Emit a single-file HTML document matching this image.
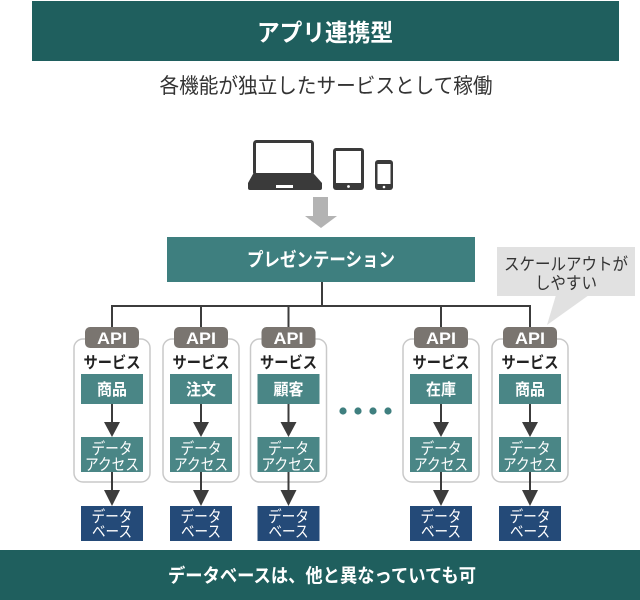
<!DOCTYPE html>
<html><head><meta charset="utf-8">
<style>
html,body{margin:0;padding:0;background:#fff;}
svg{display:block;}
text{font-family:"Liberation Sans","Noto Sans CJK JP",sans-serif;}
</style></head>
<body>
<svg width="640" height="600" viewBox="0 0 640 600" xmlns="http://www.w3.org/2000/svg">
<!-- top banner -->
<rect x="32" y="1" width="587" height="60" fill="#1f5f5e"/>
<text x="325" y="41" font-size="24" font-weight="bold" fill="#fff" text-anchor="middle" textLength="136" lengthAdjust="spacingAndGlyphs">アプリ連携型</text>
<text x="326" y="93" font-size="21" fill="#333" text-anchor="middle" textLength="333" lengthAdjust="spacingAndGlyphs">各機能が独立したサービスとして稼働</text>

<!-- devices -->
<rect x="254.5" y="141.5" width="58" height="33" rx="2" fill="#fff" stroke="#3a3a3a" stroke-width="3"/>
<path d="M253 174 L314 174 L322 183 L322 188 Q322 190 320 190 L250 190 Q248 190 248 188 L248 183 Z" fill="#3a3a3a"/>
<rect x="276" y="185" width="17" height="3" fill="#fff"/>
<rect x="333" y="148" width="31" height="42" rx="3" fill="#3a3a3a"/>
<rect x="336" y="151" width="25" height="32" fill="#fff"/>
<circle cx="348.5" cy="186.5" r="1.4" fill="#fff"/>
<rect x="375" y="160" width="18" height="30" rx="3" fill="#3a3a3a"/>
<rect x="377.5" y="164" width="13" height="20" fill="#fff"/>
<circle cx="384" cy="187" r="1.3" fill="#fff"/>

<!-- gray arrow -->
<polygon points="313,197 328,197 328,216 337,216 321,228 305,216 313,216" fill="#b3b3b3"/>

<!-- presentation -->
<rect x="167" y="237" width="308" height="45" fill="#3e7f7f"/>
<text x="321" y="266" font-size="19" font-weight="bold" fill="#fff" text-anchor="middle" textLength="148" lengthAdjust="spacingAndGlyphs">プレゼンテーション</text>

<!-- callout -->
<rect x="497" y="247" width="138" height="49" fill="#e1e1e1"/>
<polygon points="556,295 589,295 547,325" fill="#e1e1e1"/>
<text x="566" y="270" font-size="17" fill="#333" text-anchor="middle" textLength="124" lengthAdjust="spacingAndGlyphs">スケールアウトが</text>
<text x="566" y="289" font-size="17" fill="#333" text-anchor="middle" textLength="62" lengthAdjust="spacingAndGlyphs">しやすい</text>

<!-- connectors -->
<g stroke="#3c3c3c" stroke-width="2" fill="none">
<line x1="322" y1="282" x2="322" y2="306"/>
<line x1="111" y1="306" x2="531" y2="306"/>
<line x1="112" y1="306" x2="112" y2="328"/>
<line x1="201" y1="306" x2="201" y2="328"/>
<line x1="288.5" y1="306" x2="288.5" y2="328"/>
<line x1="441" y1="306" x2="441" y2="328"/>
<line x1="530" y1="306" x2="530" y2="328"/>
</g>

<!-- dots -->
<g fill="#3f7f7f">
<circle cx="343" cy="411" r="3.6"/>
<circle cx="358" cy="411" r="3.6"/>
<circle cx="373" cy="411" r="3.6"/>
<circle cx="388" cy="411" r="3.6"/>
</g>

<g transform="translate(112,0)">
<rect x="-38" y="339" width="76" height="143" rx="9" fill="#fff" stroke="#c9c9c9" stroke-width="1.5"/>
<rect x="-27" y="327" width="54" height="21" rx="5" fill="#7a7570"/>
<text x="0" y="344" font-size="17" font-weight="bold" fill="#fff" text-anchor="middle" textLength="30" lengthAdjust="spacingAndGlyphs">API</text>
<text x="0" y="368" font-size="16" font-weight="bold" fill="#222" text-anchor="middle" textLength="57" lengthAdjust="spacingAndGlyphs">サービス</text>
<rect x="-31" y="374" width="62" height="30" fill="#4a8686"/>
<text x="0" y="395" font-size="16" font-weight="bold" fill="#fff" text-anchor="middle" textLength="30" lengthAdjust="spacingAndGlyphs">商品</text>
<line x1="0" y1="404" x2="0" y2="423" stroke="#3c3c3c" stroke-width="2"/>
<polygon points="-8,422 8,422 0,437" fill="#3c3c3c"/>
<rect x="-31" y="437" width="62" height="35" fill="#4a8686"/>
<text x="0" y="454" font-size="16" fill="#fff" text-anchor="middle" textLength="41" lengthAdjust="spacingAndGlyphs">データ</text>
<text x="0" y="470" font-size="16" fill="#fff" text-anchor="middle" textLength="54" lengthAdjust="spacingAndGlyphs">アクセス</text>
<line x1="0" y1="472" x2="0" y2="491" stroke="#3c3c3c" stroke-width="2"/>
<polygon points="-8,490 8,490 0,506" fill="#3c3c3c"/>
<rect x="-31" y="506" width="62" height="35" fill="#244a78"/>
<text x="0" y="522" font-size="16" fill="#fff" text-anchor="middle" textLength="41" lengthAdjust="spacingAndGlyphs">データ</text>
<text x="0" y="537" font-size="16" fill="#fff" text-anchor="middle" textLength="40" lengthAdjust="spacingAndGlyphs">ベース</text>
</g>

<g transform="translate(201,0)">
<rect x="-38" y="339" width="76" height="143" rx="9" fill="#fff" stroke="#c9c9c9" stroke-width="1.5"/>
<rect x="-27" y="327" width="54" height="21" rx="5" fill="#7a7570"/>
<text x="0" y="344" font-size="17" font-weight="bold" fill="#fff" text-anchor="middle" textLength="30" lengthAdjust="spacingAndGlyphs">API</text>
<text x="0" y="368" font-size="16" font-weight="bold" fill="#222" text-anchor="middle" textLength="57" lengthAdjust="spacingAndGlyphs">サービス</text>
<rect x="-31" y="374" width="62" height="30" fill="#4a8686"/>
<text x="0" y="395" font-size="16" font-weight="bold" fill="#fff" text-anchor="middle" textLength="30" lengthAdjust="spacingAndGlyphs">注文</text>
<line x1="0" y1="404" x2="0" y2="423" stroke="#3c3c3c" stroke-width="2"/>
<polygon points="-8,422 8,422 0,437" fill="#3c3c3c"/>
<rect x="-31" y="437" width="62" height="35" fill="#4a8686"/>
<text x="0" y="454" font-size="16" fill="#fff" text-anchor="middle" textLength="41" lengthAdjust="spacingAndGlyphs">データ</text>
<text x="0" y="470" font-size="16" fill="#fff" text-anchor="middle" textLength="54" lengthAdjust="spacingAndGlyphs">アクセス</text>
<line x1="0" y1="472" x2="0" y2="491" stroke="#3c3c3c" stroke-width="2"/>
<polygon points="-8,490 8,490 0,506" fill="#3c3c3c"/>
<rect x="-31" y="506" width="62" height="35" fill="#244a78"/>
<text x="0" y="522" font-size="16" fill="#fff" text-anchor="middle" textLength="41" lengthAdjust="spacingAndGlyphs">データ</text>
<text x="0" y="537" font-size="16" fill="#fff" text-anchor="middle" textLength="40" lengthAdjust="spacingAndGlyphs">ベース</text>
</g>

<g transform="translate(288.5,0)">
<rect x="-38" y="339" width="76" height="143" rx="9" fill="#fff" stroke="#c9c9c9" stroke-width="1.5"/>
<rect x="-27" y="327" width="54" height="21" rx="5" fill="#7a7570"/>
<text x="0" y="344" font-size="17" font-weight="bold" fill="#fff" text-anchor="middle" textLength="30" lengthAdjust="spacingAndGlyphs">API</text>
<text x="0" y="368" font-size="16" font-weight="bold" fill="#222" text-anchor="middle" textLength="57" lengthAdjust="spacingAndGlyphs">サービス</text>
<rect x="-31" y="374" width="62" height="30" fill="#4a8686"/>
<text x="0" y="395" font-size="16" font-weight="bold" fill="#fff" text-anchor="middle" textLength="30" lengthAdjust="spacingAndGlyphs">顧客</text>
<line x1="0" y1="404" x2="0" y2="423" stroke="#3c3c3c" stroke-width="2"/>
<polygon points="-8,422 8,422 0,437" fill="#3c3c3c"/>
<rect x="-31" y="437" width="62" height="35" fill="#4a8686"/>
<text x="0" y="454" font-size="16" fill="#fff" text-anchor="middle" textLength="41" lengthAdjust="spacingAndGlyphs">データ</text>
<text x="0" y="470" font-size="16" fill="#fff" text-anchor="middle" textLength="54" lengthAdjust="spacingAndGlyphs">アクセス</text>
<line x1="0" y1="472" x2="0" y2="491" stroke="#3c3c3c" stroke-width="2"/>
<polygon points="-8,490 8,490 0,506" fill="#3c3c3c"/>
<rect x="-31" y="506" width="62" height="35" fill="#244a78"/>
<text x="0" y="522" font-size="16" fill="#fff" text-anchor="middle" textLength="41" lengthAdjust="spacingAndGlyphs">データ</text>
<text x="0" y="537" font-size="16" fill="#fff" text-anchor="middle" textLength="40" lengthAdjust="spacingAndGlyphs">ベース</text>
</g>

<g transform="translate(441,0)">
<rect x="-38" y="339" width="76" height="143" rx="9" fill="#fff" stroke="#c9c9c9" stroke-width="1.5"/>
<rect x="-27" y="327" width="54" height="21" rx="5" fill="#7a7570"/>
<text x="0" y="344" font-size="17" font-weight="bold" fill="#fff" text-anchor="middle" textLength="30" lengthAdjust="spacingAndGlyphs">API</text>
<text x="0" y="368" font-size="16" font-weight="bold" fill="#222" text-anchor="middle" textLength="57" lengthAdjust="spacingAndGlyphs">サービス</text>
<rect x="-31" y="374" width="62" height="30" fill="#4a8686"/>
<text x="0" y="395" font-size="16" font-weight="bold" fill="#fff" text-anchor="middle" textLength="30" lengthAdjust="spacingAndGlyphs">在庫</text>
<line x1="0" y1="404" x2="0" y2="423" stroke="#3c3c3c" stroke-width="2"/>
<polygon points="-8,422 8,422 0,437" fill="#3c3c3c"/>
<rect x="-31" y="437" width="62" height="35" fill="#4a8686"/>
<text x="0" y="454" font-size="16" fill="#fff" text-anchor="middle" textLength="41" lengthAdjust="spacingAndGlyphs">データ</text>
<text x="0" y="470" font-size="16" fill="#fff" text-anchor="middle" textLength="54" lengthAdjust="spacingAndGlyphs">アクセス</text>
<line x1="0" y1="472" x2="0" y2="491" stroke="#3c3c3c" stroke-width="2"/>
<polygon points="-8,490 8,490 0,506" fill="#3c3c3c"/>
<rect x="-31" y="506" width="62" height="35" fill="#244a78"/>
<text x="0" y="522" font-size="16" fill="#fff" text-anchor="middle" textLength="41" lengthAdjust="spacingAndGlyphs">データ</text>
<text x="0" y="537" font-size="16" fill="#fff" text-anchor="middle" textLength="40" lengthAdjust="spacingAndGlyphs">ベース</text>
</g>

<g transform="translate(530,0)">
<rect x="-38" y="339" width="76" height="143" rx="9" fill="#fff" stroke="#c9c9c9" stroke-width="1.5"/>
<rect x="-27" y="327" width="54" height="21" rx="5" fill="#7a7570"/>
<text x="0" y="344" font-size="17" font-weight="bold" fill="#fff" text-anchor="middle" textLength="30" lengthAdjust="spacingAndGlyphs">API</text>
<text x="0" y="368" font-size="16" font-weight="bold" fill="#222" text-anchor="middle" textLength="57" lengthAdjust="spacingAndGlyphs">サービス</text>
<rect x="-31" y="374" width="62" height="30" fill="#4a8686"/>
<text x="0" y="395" font-size="16" font-weight="bold" fill="#fff" text-anchor="middle" textLength="30" lengthAdjust="spacingAndGlyphs">商品</text>
<line x1="0" y1="404" x2="0" y2="423" stroke="#3c3c3c" stroke-width="2"/>
<polygon points="-8,422 8,422 0,437" fill="#3c3c3c"/>
<rect x="-31" y="437" width="62" height="35" fill="#4a8686"/>
<text x="0" y="454" font-size="16" fill="#fff" text-anchor="middle" textLength="41" lengthAdjust="spacingAndGlyphs">データ</text>
<text x="0" y="470" font-size="16" fill="#fff" text-anchor="middle" textLength="54" lengthAdjust="spacingAndGlyphs">アクセス</text>
<line x1="0" y1="472" x2="0" y2="491" stroke="#3c3c3c" stroke-width="2"/>
<polygon points="-8,490 8,490 0,506" fill="#3c3c3c"/>
<rect x="-31" y="506" width="62" height="35" fill="#244a78"/>
<text x="0" y="522" font-size="16" fill="#fff" text-anchor="middle" textLength="41" lengthAdjust="spacingAndGlyphs">データ</text>
<text x="0" y="537" font-size="16" fill="#fff" text-anchor="middle" textLength="40" lengthAdjust="spacingAndGlyphs">ベース</text>
</g>

<!-- bottom banner -->
<rect x="0" y="550" width="640" height="50" fill="#1f5f5e"/>
<text x="322" y="582" font-size="19" font-weight="bold" fill="#fff" text-anchor="middle" textLength="308" lengthAdjust="spacingAndGlyphs">データベースは、他と異なっていても可</text>
</svg>
</body></html>
